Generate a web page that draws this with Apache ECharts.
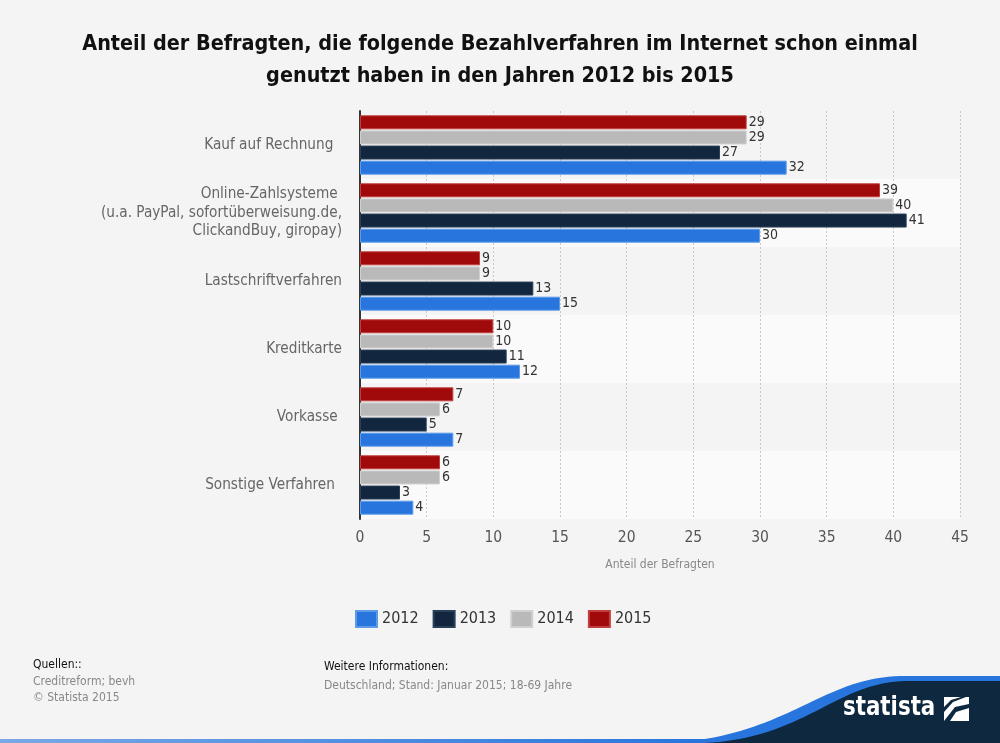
<!DOCTYPE html>
<html>
<head>
<meta charset="utf-8">
<script src="https://cdn.jsdelivr.net/npm/echarts@6/dist/echarts.min.js"></script>
<style>
html,body{margin:0;padding:0;background:#f4f4f4;}
#chart{width:1000px;height:743px;}
</style>
</head>
<body>
<div id="chart"></div>
<script>
const categories = [
  'Kauf auf Rechnung  ',
  'Online-Zahlsysteme \n(u.a. PayPal, sofortüberweisung.de,\nClickandBuy, giropay)',
  'Lastschriftverfahren',
  'Kreditkarte',
  'Vorkasse ',
  'Sonstige Verfahren \u2009'
];
const years = ['2012', '2013', '2014', '2015'];
const values2012 = [32, 30, 15, 12, 7, 4];
const values2013 = [27, 41, 13, 11, 5, 3];
const values2014 = [29, 40, 9, 10, 6, 6];
const values2015 = [29, 39, 9, 10, 7, 6];
const xTicks = [0, 5, 10, 15, 20, 25, 30, 35, 40, 45];

const FONT = 'DejaVu Sans Condensed';
const colors = {'2012': '#2876dd', '2013': '#12273f', '2014': '#b9b9b9', '2015': '#a10a0a'};
const borders = {'2012': '#5d9be9', '2013': '#2a3f58', '2014': '#d0d0d0', '2015': '#c04040'};
const seriesData = {'2012': values2012, '2013': values2013, '2014': values2014, '2015': values2015};

const order = ['2015', '2014', '2013', '2012'];
const series = order.map(y => ({
  name: y,
  type: 'bar',
  data: seriesData[y],
  barWidth: 14,
  barGap: '8%',
  itemStyle: {color: colors[y], borderColor: borders[y], borderWidth: 1},
  label: {show: true, position: 'right', distance: 2, color: '#333', fontSize: 14, fontFamily: FONT},
  emphasis: {disabled: true},
  animation: false
}));

// decorative logo curve helper (cubic bezier sampling)
function bez(p0, p1, p2, p3, n) {
  const pts = [];
  for (let i = 0; i <= n; i++) {
    const t = i / n, u = 1 - t;
    pts.push([
      u*u*u*p0[0] + 3*u*u*t*p1[0] + 3*u*t*t*p2[0] + t*t*t*p3[0],
      u*u*u*p0[1] + 3*u*u*t*p1[1] + 3*u*t*t*p2[1] + t*t*t*p3[1]
    ]);
  }
  return pts;
}
const bluePts = bez([665, 743], [785, 738], [820, 678], [900, 676], 40).concat([[1000, 676], [1000, 743]]);
const darkPts = bez([705, 743], [805, 738], [835, 683], [905, 681], 40).concat([[1000, 681], [1000, 743]]);

const f12 = '12px "' + FONT + '"';
const chart = echarts.init(document.getElementById('chart'), null, {renderer: 'canvas'});
chart.setOption({
  backgroundColor: '#f4f4f4',
  animation: false,
  title: {
    text: 'Anteil der Befragten, die folgende Bezahlverfahren im Internet schon einmal\ngenutzt haben in den Jahren 2012 bis 2015',
    left: 'center',
    top: 23,
    textStyle: {fontFamily: FONT, fontWeight: 'bold', fontSize: 21.4, color: '#111', lineHeight: 32, align: 'center'}
  },
  legend: {
    data: years,
    top: 605,
    left: 350,
    itemWidth: 21,
    itemHeight: 16,
    itemGap: 14,
    icon: 'rect',
    textStyle: {fontFamily: FONT, fontSize: 16, color: '#333'}
  },
  grid: {left: 360, right: 40, top: 111, bottom: 224, containLabel: false},
  xAxis: {
    type: 'value',
    min: 0,
    max: 45,
    interval: 5,
    name: 'Anteil der Befragten',
    nameLocation: 'middle',
    nameGap: 40,
    nameTextStyle: {fontFamily: FONT, fontSize: 12, color: '#888'},
    axisLine: {show: false},
    axisTick: {show: false},
    axisLabel: {fontFamily: FONT, fontSize: 15.5, color: '#555', margin: 11,
      formatter: v => xTicks.includes(v) ? String(v) : ''},
    splitLine: {show: true, lineStyle: {color: '#c8c8c8', type: [2, 2], width: 1}}
  },
  yAxis: {
    type: 'category',
    data: categories,
    inverse: true,
    axisLine: {show: true, lineStyle: {color: '#333', width: 2}},
    axisTick: {show: false},
    axisLabel: {fontFamily: FONT, fontSize: 15.2, color: '#666', margin: 18, lineHeight: 18.5, align: 'right'},
    splitLine: {show: false},
    splitArea: {show: true, areaStyle: {color: ['#f4f4f4', '#fafafa']}}
  },
  series: series,
  graphic: [
    {type: 'text', x: 33, y: 659, style: {text: 'Quellen::', font: f12, fill: '#111'}},
    {type: 'text', x: 33, y: 676, style: {text: 'Creditreform; bevh', font: f12, fill: '#888'}},
    {type: 'text', x: 33, y: 692, style: {text: '© Statista 2015', font: f12, fill: '#888'}},
    {type: 'text', x: 324, y: 661, style: {text: 'Weitere Informationen:', font: f12, fill: '#111'}},
    {type: 'text', x: 324, y: 680, style: {text: 'Deutschland; Stand: Januar 2015; 18-69 Jahre', font: f12, fill: '#888'}},
    {type: 'rect', shape: {x: 0, y: 739, width: 1000, height: 4},
      style: {fill: new echarts.graphic.LinearGradient(0, 0, 1, 0, [{offset: 0, color: 'rgba(40,118,221,0.6)'}, {offset: 0.7, color: '#2876dd'}, {offset: 1, color: '#2876dd'}])}},
    {type: 'polygon', shape: {points: bluePts}, style: {fill: '#2876dd'}},
    {type: 'polygon', shape: {points: darkPts}, style: {fill: '#0e2840'}},
    {type: 'text', x: 843, y: 694, scaleX: 0.88, style: {text: 'statista', font: 'bold 27px "DejaVu Sans Condensed"', fill: '#ffffff'}},
    {type: 'rect', shape: {x: 944, y: 697, width: 25, height: 24}, style: {fill: '#ffffff'}},
    {type: 'polygon', shape: {points: [[944, 721], [950, 721], [956, 712], [969, 708], [969, 704], [955, 707]]}, style: {fill: '#0e2840'}},
    {type: 'polygon', shape: {points: [[944, 712], [944, 707], [951, 700], [961, 697], [966, 697], [953, 702]]}, style: {fill: '#0e2840'}}
  ]
});
</script>
</body>
</html>
